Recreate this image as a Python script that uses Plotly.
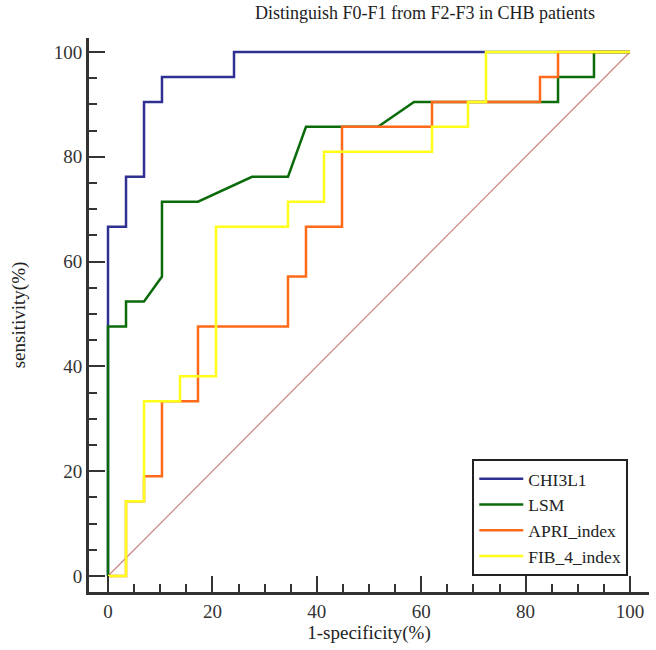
import plotly.graph_objects as go

# ROC curve vertices: 1-specificity (%) and sensitivity (%)
chi_x = [0, 0, 3.45, 3.45, 6.9, 6.9, 10.34, 10.34, 24.14, 24.14, 100]
chi_y = [0, 66.67, 66.67, 76.19, 76.19, 90.48, 90.48, 95.24, 95.24, 100, 100]

lsm_x = [0, 0, 3.45, 3.45, 6.9, 10.34, 10.34, 17.24, 27.59, 34.48, 37.93, 51.72,
         58.62, 86.21, 86.21, 93.1, 93.1, 100]
lsm_y = [0, 47.62, 47.62, 52.38, 52.38, 57.14, 71.43, 71.43, 76.19, 76.19, 85.71, 85.71,
         90.48, 90.48, 95.24, 95.24, 100, 100]

apri_x = [0, 3.45, 3.45, 6.9, 6.9, 10.34, 10.34, 17.24, 17.24, 34.48, 34.48, 37.93,
          37.93, 44.83, 44.83, 62.07, 62.07, 82.76, 82.76, 86.21, 86.21, 100]
apri_y = [0, 0, 14.29, 14.29, 19.05, 19.05, 33.33, 33.33, 47.62, 47.62, 57.14, 57.14,
          66.67, 66.67, 85.71, 85.71, 90.48, 90.48, 95.24, 95.24, 100, 100]

fib_x = [0, 3.45, 3.45, 6.9, 6.9, 13.79, 13.79, 20.69, 20.69, 34.48, 34.48, 41.38,
         41.38, 62.07, 62.07, 68.97, 68.97, 72.41, 72.41, 100]
fib_y = [0, 0, 14.29, 14.29, 33.33, 33.33, 38.1, 38.1, 66.67, 66.67, 71.43, 71.43,
         80.95, 80.95, 85.71, 85.71, 90.48, 90.48, 100, 100]

ref_x = [0, 100]
ref_y = [0, 100]

series_names = ["CHI3L1", "LSM", "APRI_index", "FIB_4_index"]
series_colors = ["#2e3192", "#0b6b0b", "#ff6a1a", "#ffff1a"]
tick_vals = [0, 20, 40, 60, 80, 100]

FONT = "Liberation Serif, Times New Roman, serif"

fig = go.Figure()
fig.add_trace(go.Scatter(x=ref_x, y=ref_y, mode="lines", showlegend=False,
                         line=dict(color="#cc8585", width=1.2), hoverinfo="skip"))
for name, xs, ys, col in zip(series_names,
                             [chi_x, lsm_x, apri_x, fib_x],
                             [chi_y, lsm_y, apri_y, fib_y],
                             series_colors):
    fig.add_trace(go.Scatter(x=xs, y=ys, mode="lines", name=name,
                             line=dict(color=col, width=2.5)))

axis_common = dict(
    showline=True, linecolor="#333333", linewidth=3,
    ticks="inside", ticklen=16, tickwidth=2, tickcolor="#333333",
    tickvals=tick_vals, ticktext=[str(v) for v in tick_vals],
    minor=dict(ticks="inside", ticklen=8, tickwidth=1.5, tickcolor="#333333", dtick=5,
               tick0=0, showgrid=False),
    showgrid=False, zeroline=False,
    tickfont=dict(family=FONT, size=19, color="#333333"),
    mirror=False,
)

fig.update_xaxes(range=[-3.64, 103.64], title=dict(text="1-specificity(%)",
                 font=dict(family=FONT, size=19, color="#222222"), standoff=2),
                 **axis_common)
fig.update_yaxes(range=[-3.05, 102.67], title=dict(text="sensitivity(%)",
                 font=dict(family=FONT, size=19, color="#222222"), standoff=24),
                 **axis_common)

fig.update_layout(
    width=656, height=650,
    margin=dict(l=89, r=7, t=38, b=58),
    paper_bgcolor="white", plot_bgcolor="white",
    font=dict(family=FONT, color="#222222"),
    title=dict(text="Distinguish F0-F1 from F2-F3 in CHB patients",
               font=dict(family=FONT, size=18, color="#222222"),
               x=0.6, xanchor="center", xref="paper", y=0.99, yanchor="top"),
    legend=dict(x=0.963, y=0.029, xanchor="right", yanchor="bottom",
                bordercolor="#222222", borderwidth=2, bgcolor="white",
                font=dict(family=FONT, size=17.5, color="#222222"),
                tracegroupgap=0, itemwidth=44),
)

fig.write_html("out.html")
